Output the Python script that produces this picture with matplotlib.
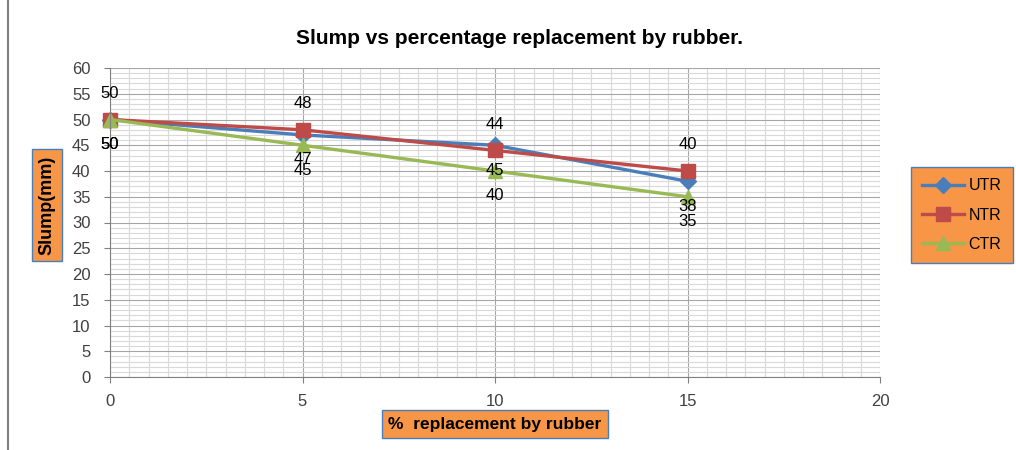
import matplotlib.pyplot as plt
from matplotlib.lines import Line2D
import numpy as np

replacement = [0, 5, 10, 15]
utr = [50, 47, 45, 38]
ntr = [50, 48, 44, 40]
ctr = [50, 45, 40, 35]

plt.rcParams['font.family'] = ['Liberation Sans', 'DejaVu Sans']

fig = plt.figure(figsize=(10.16, 4.5), dpi=100)
ax = fig.add_axes([110/1016, 1-377/450, 770/1016, 309/450])

# grid like the excel chart: minor lines, darker major lines
ax.set_xticks(np.arange(0, 20.1, 0.5), minor=True)
ax.set_yticks(np.arange(0, 60.1, 1), minor=True)
ax.grid(which='minor', color='#d9d9d9', lw=0.8)
ax.grid(which='major', color='#a6a6a6', lw=0.8)
ax.set_axisbelow(True)

ax.plot(replacement, utr, color='#4A7EBB', lw=2.4, marker='D', ms=8, label='UTR', clip_on=False)
ax.plot(replacement, ntr, color='#BE4B48', lw=2.4, marker='s', ms=10, label='NTR', clip_on=False)
ax.plot(replacement, ctr, color='#98B954', lw=2.4, marker='^', ms=10, label='CTR', clip_on=False)

# data labels: NTR above, UTR and CTR below (same as the excel chart)
for x, y in zip(replacement, ntr):
    ax.annotate(str(y), (x, y), xytext=(0, 19), textcoords='offset points',
                ha='center', va='center', fontsize=12)
for x, y in zip(replacement, utr):
    ax.annotate(str(y), (x, y), xytext=(0, -18), textcoords='offset points',
                ha='center', va='center', fontsize=12)
for x, y in zip(replacement, ctr):
    ax.annotate(str(y), (x, y), xytext=(0, -18), textcoords='offset points',
                ha='center', va='center', fontsize=12)

ax.set_xlim(0, 20)
ax.set_ylim(0, 60)
ax.set_xticks(range(0, 21, 5))
ax.set_yticks(range(0, 61, 5))
ax.tick_params(which='both', length=0, labelsize=12, colors='#404040')
ax.tick_params(which='major', length=4, color='#808080')
ax.tick_params(axis='x', pad=8)
ax.tick_params(axis='y', pad=10)
for s in ['top', 'right']:
    ax.spines[s].set_visible(False)
for s in ['left', 'bottom']:
    ax.spines[s].set_color('#808080')

fig.suptitle('Slump vs percentage replacement by rubber.', x=520/1016, y=1-38/450,
             va='center', fontsize=15, fontweight='bold')

fig.text(47/1016, 1-205/450, 'Slump(mm)', rotation=90, ha='center', va='center',
         fontsize=13, fontweight='bold',
         bbox=dict(boxstyle='square,pad=0.35', fc='#F79646', ec='#4A7EBB', lw=1))
fig.text(495/1016, 1-424/450, '%  replacement by rubber', ha='center', va='center',
         fontsize=12.5, fontweight='bold',
         bbox=dict(boxstyle='square,pad=0.35', fc='#F79646', ec='#4A7EBB', lw=1))

leg = fig.legend(loc='center', bbox_to_anchor=(962/1016, 1-215/450), fontsize=11.5,
                 frameon=True, fancybox=False, handlelength=2.6, labelspacing=0.9,
                 borderpad=0.7, handletextpad=0.3)
leg.get_frame().set_facecolor('#F79646')
leg.get_frame().set_edgecolor('#4A7EBB')
leg.get_frame().set_alpha(1)

fig.add_artist(Line2D([8/1016, 8/1016], [0, 1], color='#808080', lw=1.5))

plt.savefig('out.png', dpi=100)
